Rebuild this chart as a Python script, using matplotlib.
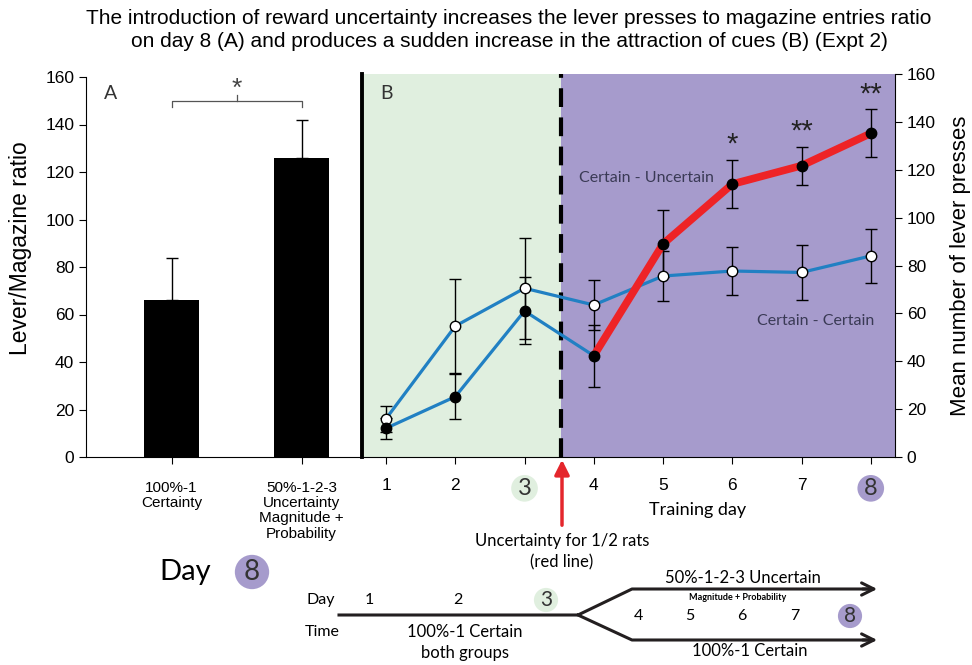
import matplotlib.pyplot as plt
from matplotlib.transforms import blended_transform_factory

plt.rcParams['font.family'] = ['Liberation Sans', 'DejaVu Sans']

# panel A: lever / magazine ratio on day 8
groups = ['100%-1\nCertainty', '50%-1-2-3\nUncertainty\nMagnitude +\nProbability']
ratio = [66, 126]
ratio_err = [17.8, 16]

# panel B: lever presses per training day
days = [1, 2, 3, 4, 5, 6, 7, 8]
cc_mean = [16, 54.7, 70.5, 63.5, 75.6, 77.7, 77.1, 84]
cc_err = [5.5, 19.5, 21, 10.5, 10.5, 10, 11.5, 11.3]
cu_mean = [12, 25.2, 61, 42.3, 89, 114, 121.7, 135.2]
cu_err = [4.5, 9.3, 14, 13, 14, 10, 8, 10]
sig_days = [6, 7, 8]
sig_marks = ['*', '**', '**']
switch_day = 3.53

green = '#e0efdf'
purple = '#a69bcc'
blue = '#2180c3'
red = '#ee2326'
ink = '#231f20'
myriad = ['Lato', 'DejaVu Sans']

W, H = 972, 665
fig = plt.figure(figsize=(9.72, 6.65), dpi=100)


def rect(x0, y0, x1, y1):
    return [x0 / W, 1 - y1 / H, (x1 - x0) / W, (y1 - y0) / H]


axA = fig.add_axes(rect(86, 77, 362, 457))
axB = fig.add_axes(rect(362, 74, 895, 457))

# ---- A
xa = list(range(len(groups)))
axA.bar(xa, ratio, width=0.42, color='black', zorder=2)
axA.errorbar(xa, ratio, yerr=[[0] * len(ratio), ratio_err], fmt='none',
             ecolor='black', elinewidth=1, capsize=4.5, zorder=1)
axA.set_xlim(-0.658, 1.465)
axA.set_ylim(0, 160)
axA.set_yticks(range(0, 161, 20))
axA.set_xticks(xa)
axA.set_xticklabels(groups, family=['Liberation Sans Narrow', 'Liberation Sans'],
                    fontsize=11, linespacing=1.12)
axA.tick_params(axis='x', length=5, pad=12)
axA.tick_params(axis='y', length=5, labelsize=12.5)
for s in ['top', 'right']:
    axA.spines[s].set_visible(False)
axA.set_facecolor('none')
axA.set_ylabel('Lever/Magazine ratio', fontsize=16.5)
axA.yaxis.set_label_coords(-0.195, 0.55)
axA.plot([0, 0, 1, 1], [147.5, 150, 150, 147.5], color='#555555', lw=0.9)
axA.plot([0.5, 0.5], [150, 152.5], color='#555555', lw=0.9)
axA.text(0.5, 150, '*', ha='center', va='bottom', fontsize=19, color='#444444')
axA.text(-0.47, 153, 'A', ha='center', va='center', fontsize=14,
         family=myriad, color='#333333')

# ---- B
x0, x1 = 0.653, 8.35
axB.set_xlim(x0, x1)
axB.set_ylim(0, 160)
axB.axvspan(x0, switch_day, color=green, zorder=0, lw=0)
axB.axvspan(switch_day, x1, color=purple, zorder=0, lw=0)
axB.axvline(switch_day, color='black', lw=3, ls=(0, (4.5, 2.5)), zorder=1)

axB.errorbar(days, cc_mean, yerr=cc_err, fmt='none', ecolor='black',
             elinewidth=1, capsize=4.5, zorder=2)
axB.errorbar(days, cu_mean, yerr=cu_err, fmt='none', ecolor='black',
             elinewidth=1, capsize=4.5, zorder=2)
axB.plot(days, cc_mean, color=blue, lw=2.3, zorder=3)
axB.plot(days[:4], cu_mean[:4], color=blue, lw=2.3, zorder=3)
axB.plot(days[3:], cu_mean[3:], color=red, lw=5.5, zorder=3, solid_capstyle='round')
axB.plot(days, cc_mean, 'o', ms=7.5, mfc='white', mec='black', mew=1, zorder=4)
axB.plot(days, cu_mean, 'o', ms=7.5, mfc='black', mec='black', zorder=4)

for d, m in zip(sig_days, sig_marks):
    i = days.index(d)
    axB.text(d, cu_mean[i] + cu_err[i] + 0.5, m, ha='center', va='bottom',
             fontsize=21, color='#222222')

axB.text(4.76, 116.5, 'Certain - Uncertain', ha='center', va='center',
         fontsize=11.5, family=myriad, color='#3a3a55')
axB.text(7.2, 57, 'Certain - Certain', ha='center', va='center',
         fontsize=11.5, family=myriad, color='#3a3a55')
axB.text(1.0, 152, 'B', ha='center', va='center', fontsize=14,
         family=myriad, color='#333333')

axB.set_xticks(days)
axB.set_xticklabels([str(d) for d in days], fontsize=12.5)
axB.tick_params(axis='x', length=5, pad=10)
axB.tick_params(axis='y', left=False, labelleft=False, right=True,
                labelright=True, length=5, labelsize=12.5)
axB.spines['top'].set_visible(False)
axB.spines['left'].set_linewidth(2.8)
axB.yaxis.set_label_position('right')
axB.set_ylabel('Mean number of lever presses', fontsize=16, labelpad=10)
for lbl, col in [(axB.get_xticklabels()[2], green), (axB.get_xticklabels()[7], purple)]:
    lbl.set_fontsize(17)
    lbl.set_family(myriad)
    lbl.set_color('#333333')
    lbl.set_bbox(dict(boxstyle='circle,pad=0.12', fc=col, ec='none'))

tr = blended_transform_factory(axB.transData, axB.transAxes)
axB.text(5.5, -0.138, 'Training day', transform=tr, ha='center', va='center',
         fontsize=13, family=myriad)

# ---- title
fig.text(509 / W, 1 - 30 / H,
         'The introduction of reward uncertainty increases the lever presses to magazine entries ratio\n'
         'on day 8 (A) and produces a sudden increase in the attraction of cues (B) (Expt 2)',
         ha='center', va='center', fontsize=15, linespacing=1.3)

# ---- schematic below (pixel coordinates)
ov = fig.add_axes([0, 0, 1, 1])
ov.set_xlim(0, W)
ov.set_ylim(H, 0)
ov.axis('off')
ov.patch.set_alpha(0)

ov.annotate('', xy=(562, 457), xytext=(562, 528),
            arrowprops=dict(arrowstyle='-|>', color='#e4262c', lw=2.5, mutation_scale=22))
ov.text(562, 541, 'Uncertainty for 1/2 rats', ha='center', va='center',
        fontsize=12, family=myriad)
ov.text(562, 562, '(red line)', ha='center', va='center', fontsize=12, family=myriad)

ov.text(185, 572, 'Day', ha='center', va='center', fontsize=21, family=myriad)
ov.text(252, 572, '8', ha='center', va='center', fontsize=20, family=myriad,
        color='#333333',
        bbox=dict(boxstyle='circle,pad=0.15', fc=purple, ec='none'))

ov.plot([339, 578, 632, 872], [615, 615, 589, 589], color=ink, lw=2.2)
ov.plot([578, 632, 872], [615, 640, 640], color=ink, lw=2.2)
ov.annotate('', xy=(880, 589), xytext=(860, 589),
            arrowprops=dict(arrowstyle='->', color=ink, lw=2.2, mutation_scale=22))
ov.annotate('', xy=(880, 640), xytext=(860, 640),
            arrowprops=dict(arrowstyle='->', color=ink, lw=2.2, mutation_scale=22))

ov.text(321, 600, 'Day', ha='center', va='center', fontsize=11.5, family=myriad)
ov.text(322, 632, 'Time', ha='center', va='center', fontsize=11.5, family=myriad)
for d, x in zip([1, 2], [369, 458]):
    ov.text(x, 600, str(d), ha='center', va='center', fontsize=11.5, family=myriad)
ov.text(546, 600, '3', ha='center', va='center', fontsize=15, family=myriad,
        color='#333333',
        bbox=dict(boxstyle='circle,pad=0.1', fc=green, ec='none'))
for d, x in zip([4, 5, 6, 7], [638, 690, 742, 795]):
    ov.text(x, 616, str(d), ha='center', va='center', fontsize=11.5, family=myriad)
ov.text(850, 616, '8', ha='center', va='center', fontsize=15, family=myriad,
        color='#333333',
        bbox=dict(boxstyle='circle,pad=0.1', fc=purple, ec='none'))
ov.text(465, 632, '100%-1 Certain', ha='center', va='center', fontsize=12, family=myriad)
ov.text(465, 653, 'both groups', ha='center', va='center', fontsize=12, family=myriad)
ov.text(743, 578, '50%-1-2-3 Uncertain', ha='center', va='center', fontsize=12, family=myriad)
ov.text(738, 598, 'Magnitude + Probability', ha='center', va='center', fontsize=6.5,
        family=myriad, fontweight='bold')
ov.text(750, 651, '100%-1 Certain', ha='center', va='center', fontsize=12, family=myriad)

fig.savefig('out.png', dpi=100)
